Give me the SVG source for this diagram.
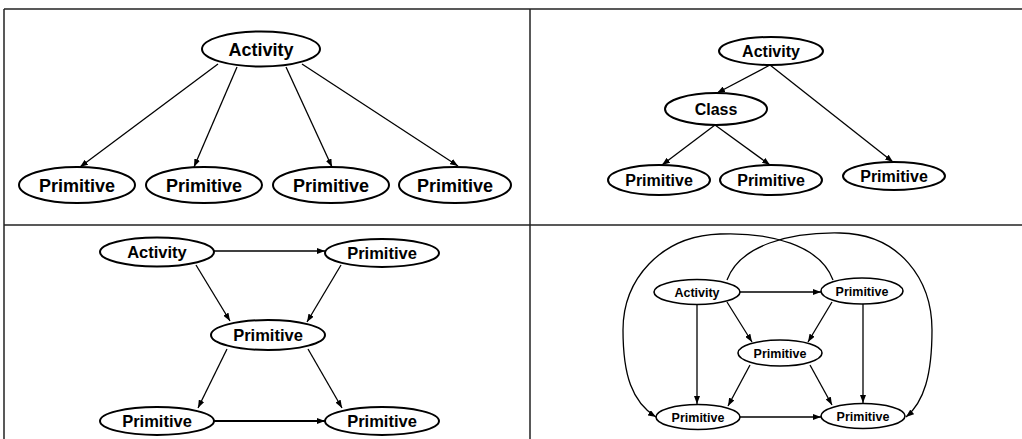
<svg xmlns="http://www.w3.org/2000/svg" width="1022" height="439" viewBox="0 0 1022 439">
  <style>
    .frame { stroke: #222; stroke-width: 1.5; fill: none; }
    .node ellipse { fill: #fff; stroke: #000; stroke-width: 2; }
    .node text { font-family: "Liberation Sans", Arial, sans-serif; font-weight: bold; text-anchor: middle; fill: #000; }
    .n18 text { font-size: 18px; }
    .n16 text { font-size: 16px; }
    .n165 text { font-size: 16.5px; }
    .n12 text { font-size: 12.5px; }
    .n12 ellipse { stroke-width: 1.6; }
    .edge { stroke: #000; stroke-width: 1.3; fill: none; marker-end: url(#arrow); }
  </style>
  <defs>
    <marker id="arrow" markerUnits="userSpaceOnUse" markerWidth="8" markerHeight="6" refX="8" refY="3" orient="auto">
      <path d="M0,0 L8,3 L0,6 z" fill="#000"/>
    </marker>
  </defs>
  <rect width="1022" height="439" fill="#fff"/>
  <g id="frame">
    <line class="frame" x1="4" y1="9" x2="1022" y2="9"/>
    <line class="frame" x1="4" y1="9" x2="4" y2="439"/>
    <line class="frame" x1="530" y1="9" x2="530" y2="439"/>
    <line class="frame" x1="4" y1="225" x2="1022" y2="225"/>
  </g>

  <g id="connectors">
    <!-- top-left -->
    <line class="edge" x1="218" y1="64" x2="80" y2="167"/>
    <line class="edge" x1="237" y1="67" x2="194" y2="167"/>
    <line class="edge" x1="286" y1="67" x2="332" y2="167"/>
    <line class="edge" x1="302" y1="64" x2="458" y2="166"/>
    <!-- top-right -->
    <line class="edge" x1="770" y1="65" x2="717" y2="93"/>
    <line class="edge" x1="770" y1="65" x2="893" y2="162"/>
    <line class="edge" x1="715" y1="125" x2="662" y2="165"/>
    <line class="edge" x1="715" y1="125" x2="770" y2="165"/>
    <!-- bottom-left -->
    <line class="edge" x1="214" y1="251" x2="325" y2="251"/>
    <line class="edge" x1="196" y1="265" x2="230" y2="321"/>
    <line class="edge" x1="341" y1="265" x2="307" y2="322"/>
    <line class="edge" x1="227" y1="349" x2="198" y2="408"/>
    <line class="edge" x1="308" y1="349" x2="342" y2="408"/>
    <line class="edge" x1="214" y1="421" x2="325" y2="421" style="stroke-width:2"/>
    <!-- bottom-right -->
    <line class="edge" x1="740" y1="292" x2="821" y2="292"/>
    <line class="edge" x1="697" y1="305" x2="697" y2="404"/>
    <line class="edge" x1="727" y1="302" x2="752" y2="342"/>
    <line class="edge" x1="832" y1="302" x2="808" y2="342"/>
    <line class="edge" x1="863" y1="304" x2="863" y2="403"/>
    <line class="edge" x1="750" y1="365" x2="728" y2="406"/>
    <line class="edge" x1="810" y1="365" x2="832" y2="405"/>
    <line class="edge" x1="740" y1="417" x2="821" y2="417"/>
    <path class="edge" d="M727,280 C740,245 790,232 840,233 C900,234 932,280 932,330 C932,375 924,402 906,417"/>
    <path class="edge" d="M833,280 C820,245 770,232 720,234 C660,236 623,280 623,330 C623,375 632,402 656,417"/>
  </g>

  <!-- top-left panel -->
  <g id="tl-activity" class="node n18"><ellipse cx="261" cy="49" rx="59" ry="17.5"/><text x="261" y="55.5">Activity</text></g>
  <g id="tl-primitive-1" class="node n18"><ellipse cx="77" cy="185" rx="58" ry="18"/><text x="77" y="191.5">Primitive</text></g>
  <g id="tl-primitive-2" class="node n18"><ellipse cx="204" cy="185" rx="58" ry="18"/><text x="204" y="191.5">Primitive</text></g>
  <g id="tl-primitive-3" class="node n18"><ellipse cx="331" cy="185" rx="58" ry="18"/><text x="331" y="191.5">Primitive</text></g>
  <g id="tl-primitive-4" class="node n18"><ellipse cx="455" cy="185" rx="56" ry="18"/><text x="455" y="191.5">Primitive</text></g>

  <!-- top-right panel -->
  <g id="tr-activity" class="node n16"><ellipse cx="771" cy="51" rx="52" ry="14"/><text x="771" y="56.8">Activity</text></g>
  <g id="tr-class" class="node n16"><ellipse cx="716" cy="109" rx="51" ry="16"/><text x="716" y="114.8">Class</text></g>
  <g id="tr-primitive-1" class="node n16"><ellipse cx="659" cy="180" rx="51" ry="15"/><text x="659" y="185.8">Primitive</text></g>
  <g id="tr-primitive-2" class="node n16"><ellipse cx="771" cy="180" rx="51" ry="15"/><text x="771" y="185.8">Primitive</text></g>
  <g id="tr-primitive-3" class="node n16"><ellipse cx="894" cy="176" rx="51" ry="14"/><text x="894" y="181.8">Primitive</text></g>

  <!-- bottom-left panel -->
  <g id="bl-activity" class="node n165"><ellipse cx="157" cy="252" rx="57" ry="14.5"/><text x="157" y="258">Activity</text></g>
  <g id="bl-primitive-tr" class="node n165"><ellipse cx="382" cy="253" rx="57" ry="14"/><text x="382" y="259">Primitive</text></g>
  <g id="bl-primitive-mid" class="node n165"><ellipse cx="268" cy="335" rx="57" ry="15"/><text x="268" y="341">Primitive</text></g>
  <g id="bl-primitive-bl" class="node n165"><ellipse cx="157" cy="421" rx="57" ry="14"/><text x="157" y="427">Primitive</text></g>
  <g id="bl-primitive-br" class="node n165"><ellipse cx="382" cy="421" rx="57" ry="14"/><text x="382" y="427">Primitive</text></g>

  <!-- bottom-right panel -->
  <g id="br-activity" class="node n12"><ellipse cx="697" cy="292" rx="43" ry="12.5"/><text x="697" y="296.5">Activity</text></g>
  <g id="br-primitive-tr" class="node n12"><ellipse cx="862" cy="291" rx="41" ry="13"/><text x="862" y="295.5">Primitive</text></g>
  <g id="br-primitive-mid" class="node n12"><ellipse cx="780" cy="353" rx="42" ry="13"/><text x="780" y="357.5">Primitive</text></g>
  <g id="br-primitive-bl" class="node n12"><ellipse cx="698" cy="417" rx="42" ry="12.5"/><text x="698" y="421.5">Primitive</text></g>
  <g id="br-primitive-br" class="node n12"><ellipse cx="863" cy="416" rx="42" ry="12.5"/><text x="863" y="420.5">Primitive</text></g>
</svg>
